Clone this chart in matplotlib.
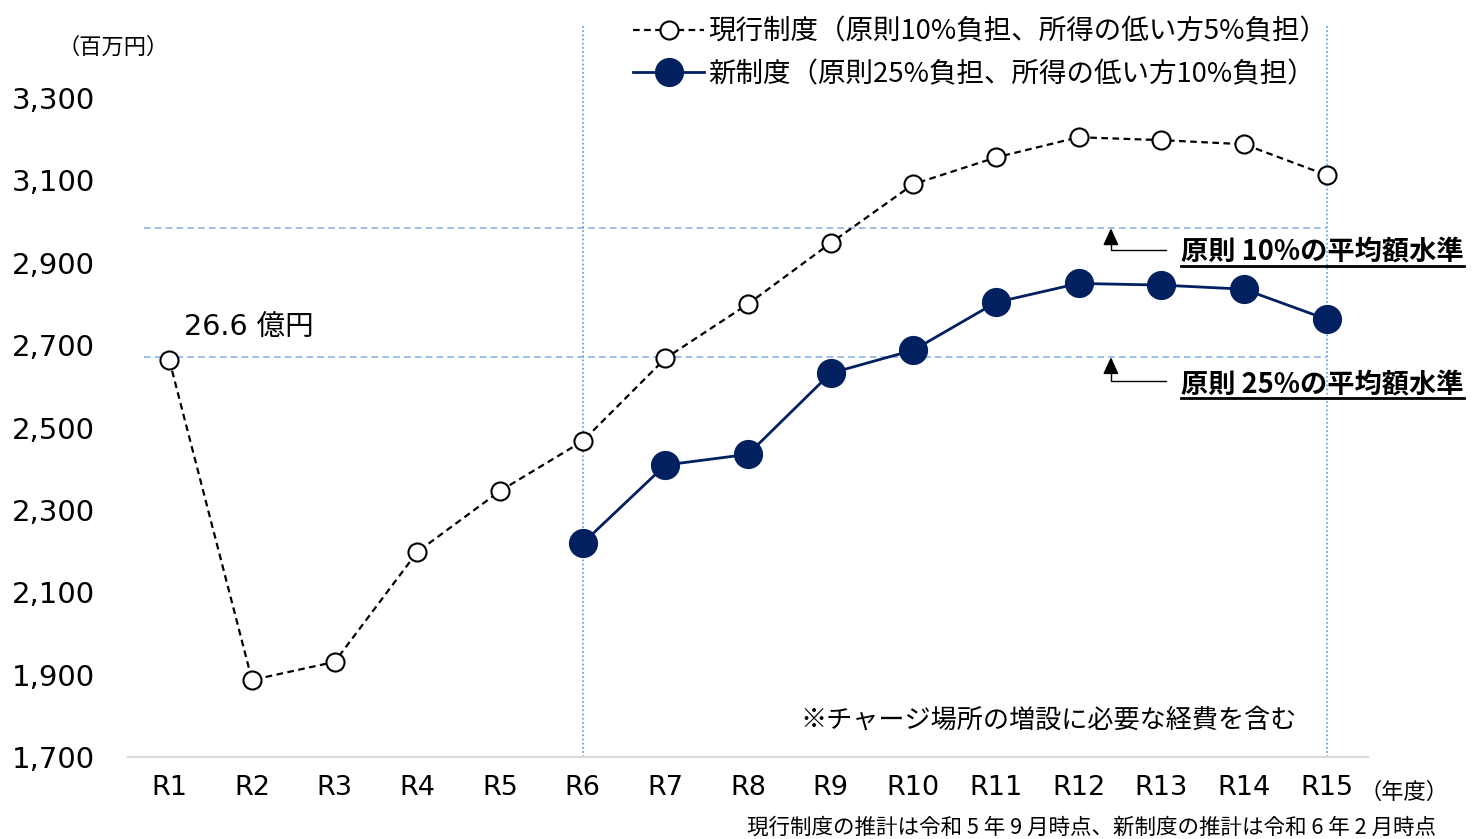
import matplotlib
matplotlib.use("Agg")
import matplotlib.pyplot as plt
from matplotlib.lines import Line2D

plt.rcParams['font.family'] = ['Noto Sans CJK JP', 'DejaVu Sans']
LATIN = ['DejaVu Sans', 'Noto Sans CJK JP']

years = ["R1", "R2", "R3", "R4", "R5", "R6", "R7", "R8", "R9", "R10",
         "R11", "R12", "R13", "R14", "R15"]
current = [2664, 1887, 1931, 2198, 2346, 2467, 2668, 2800, 2948, 3091,
           3156, 3205, 3198, 3188, 3113]
new_years = ["R6", "R7", "R8", "R9", "R10", "R11", "R12", "R13", "R14", "R15"]
new = [2219, 2409, 2435, 2632, 2688, 2804, 2850, 2846, 2836, 2763]
avg10 = 2984
avg25 = 2671
yticks = [1700, 1900, 2100, 2300, 2500, 2700, 2900, 3100, 3300]

label_cur = "現行制度（原則10%負担、所得の低い方5%負担）"
label_new = "新制度（原則25%負担、所得の低い方10%負担）"

navy = "#002060"
lblue = "#8db4e2"
vblue = "#5b9bd5"

fig = plt.figure(figsize=(14.8, 8.39), dpi=100)
ax = fig.add_axes([128/1480, 82/839, 1240/1480, 733/839])

x_cur = list(range(len(years)))
x_new = [years.index(y) for y in new_years]

ax.set_xlim(-0.5, len(years) - 0.5)
ax.set_ylim(1700, 3480)

# reference lines
ax.hlines([avg10, avg25], -0.31, 14, colors=lblue, linestyles=(0, (4, 2.5)), lw=1.2, zorder=1)
for xv in (years.index("R6"), years.index("R15")):
    ax.axvline(xv, color=vblue, ls=(0, (1, 1.5)), lw=1.2, zorder=1)

ax.plot(x_cur, current, color="black", ls=(0, (3, 2)), lw=1.6, marker="o",
        markersize=13, markerfacecolor="white", markeredgecolor="black",
        markeredgewidth=1.5, label=label_cur, zorder=3)
ax.plot(x_new, new, color=navy, lw=2, marker="o", markersize=20,
        markerfacecolor=navy, markeredgecolor=navy, label=label_new, zorder=4)

ax.set_xticks(x_cur)
ax.set_xticklabels(years, fontsize=19.5, family=LATIN)
ax.set_yticks(yticks)
ax.set_yticklabels([f"{v:,}" for v in yticks], fontsize=21, family=LATIN)
ax.tick_params(axis="x", length=0, pad=13)
ax.tick_params(axis="y", length=0, pad=24)
for s in ("top", "left", "right"):
    ax.spines[s].set_visible(False)
ax.spines["bottom"].set_color("#d9d9d9")
ax.spines["bottom"].set_linewidth(1.5)

# legend
leg = ax.legend(loc="upper left", bbox_to_anchor=(619/1480, 1 - 5/839),
                bbox_transform=fig.transFigure, frameon=False, fontsize=19.8,
                handlelength=2.6, handletextpad=0.15, labelspacing=0.55, borderpad=0)

# annotations
ax.text(0.18, current[0] + 45, "26.6 億円", fontsize=20.5, ha="left", va="bottom",
        family=LATIN)

fig.text(113/1480, 1 - 47/839, "（百万円）", fontsize=16, ha="center", va="center")
fig.text(1404/1480, 1 - 792/839, "（年度）", fontsize=16, ha="center", va="center")
fig.text(1049/1480, 1 - 720/839, "※チャージ場所の増設に必要な経費を含む", fontsize=18.8,
         ha="center", va="center")
fig.text(1436/1480, 1 - 828/839, "現行制度の推計は令和 5 年 9 月時点、新制度の推計は令和 6 年 2 月時点",
         fontsize=15.5, ha="right", va="center")

# arrows and level labels
lab10 = ax.text(12.24, 2925, "原則 10%の平均額水準", fontsize=19.6, fontweight="bold",
                ha="left", va="center")
lab25 = ax.text(12.24, 2603, "原則 25%の平均額水準", fontsize=19.6, fontweight="bold",
                ha="left", va="center")
for tip, base in ((avg10, 2930), (avg25, 2613)):
    ax.annotate("", xy=(11.39, tip), xytext=(12.06, base),
                arrowprops=dict(arrowstyle="-|>,head_length=0.7,head_width=0.32",
                                color="black", lw=1, mutation_scale=15,
                                connectionstyle="angle,angleA=0,angleB=90,rad=0",
                                shrinkA=0, shrinkB=0))

fig.canvas.draw()
r = fig.canvas.get_renderer()
for t in (lab10, lab25):
    bb = t.get_window_extent(renderer=r)
    x0, x1 = bb.x0 / fig.bbox.width, bb.x1 / fig.bbox.width
    yb = (bb.y0 + 1) / fig.bbox.height
    fig.add_artist(Line2D([x0, x1], [yb, yb], color="black", lw=2, transform=fig.transFigure))

fig.savefig("out.png", dpi=100)
